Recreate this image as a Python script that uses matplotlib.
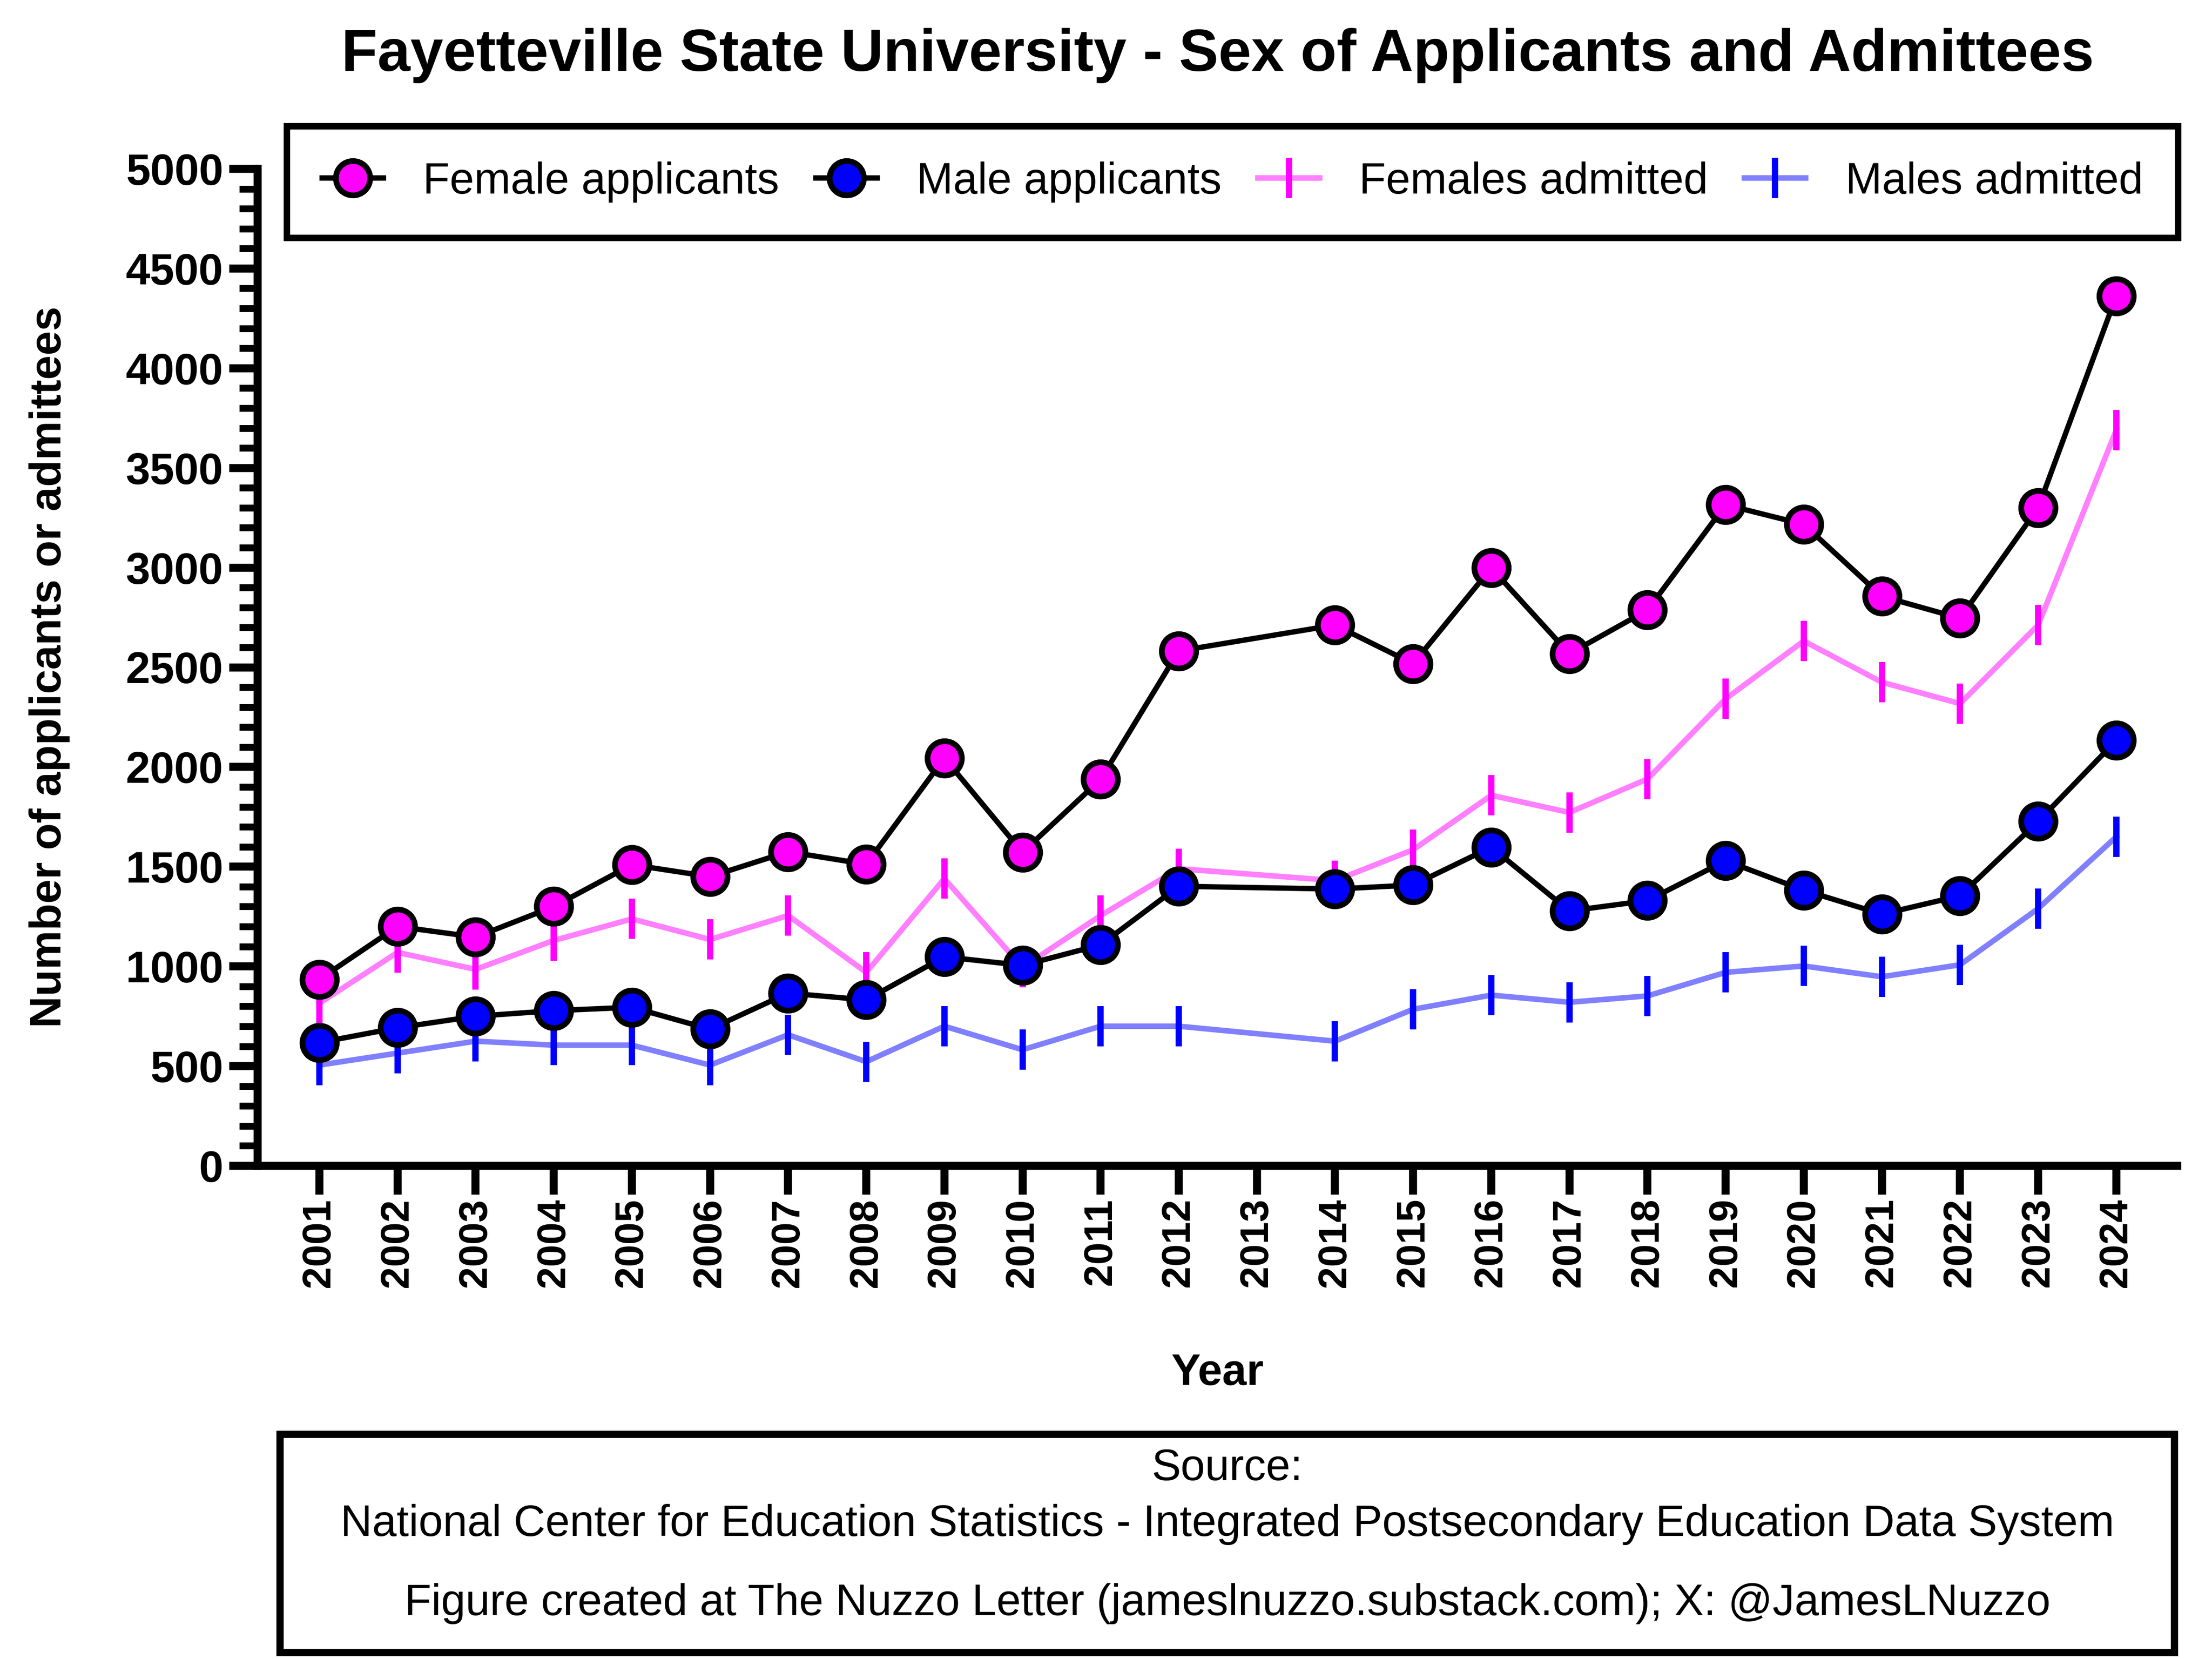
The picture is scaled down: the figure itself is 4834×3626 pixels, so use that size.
import matplotlib
matplotlib.use("Agg")
import matplotlib.pyplot as plt
from matplotlib.lines import Line2D
from matplotlib.patches import Rectangle
from matplotlib.ticker import MultipleLocator

plt.rcParams['font.family'] = ['Liberation Sans', 'DejaVu Sans']

# data (2013 has no values)
years = ['2001', '2002', '2003', '2004', '2005', '2006', '2007', '2008',
         '2009', '2010', '2011', '2012', '2013', '2014', '2015', '2016',
         '2017', '2018', '2019', '2020', '2021', '2022', '2023', '2024']
female_applicants = [935, 1200, 1147, 1300, 1510, 1450, 1575, 1512, 2045, 1572,
                     1938, 2582, None, 2712, 2518, 2998, 2568, 2787, 3315, 3217,
                     2856, 2746, 3300, 4362]
male_applicants = [618, 692, 750, 778, 795, 685, 866, 832, 1048, 1005,
                   1108, 1402, None, 1388, 1408, 1598, 1278, 1330, 1530, 1382,
                   1262, 1354, 1727, 2133]
females_admitted = [815, 1070, 985, 1130, 1238, 1135, 1255, 970, 1440, 995,
                    1255, 1490, None, 1430, 1585, 1858, 1772, 1940, 2342, 2632,
                    2425, 2318, 2712, 3690]
males_admitted = [505, 565, 625, 605, 605, 505, 657, 522, 700, 582,
                  700, 700, None, 625, 785, 856, 820, 852, 970, 1002,
                  948, 1008, 1290, 1650]


def valid(vals):
    xs = [i for i, v in enumerate(vals) if v is not None]
    ys = [v for v in vals if v is not None]
    return xs, ys


W, H = 4834, 3626
fig = plt.figure(figsize=(W / 300, H / 300), dpi=300)
ax = fig.add_axes([563 / W, 1 - 2548 / H, (4758 - 563) / W, (2548 - 369) / H])

# admitted series: pale line, saturated tick markers
adm_kw = dict(marker='|', markersize=21, markeredgewidth=3.3, linewidth=2.9)
# applicant series: black line, filled circles
app_kw = dict(color='black', marker='o', markersize=18, markeredgewidth=3.0,
              markeredgecolor='black', linewidth=2.8)

x, y = valid(females_admitted)
ax.plot(x, y, color='#FF80FF', markeredgecolor='#FF00FF', zorder=2, **adm_kw)
x, y = valid(males_admitted)
ax.plot(x, y, color='#8080FF', markeredgecolor='#0000FF', zorder=2, **adm_kw)
x, y = valid(female_applicants)
ax.plot(x, y, markerfacecolor='#FF00FF', zorder=3, **app_kw)
x, y = valid(male_applicants)
ax.plot(x, y, markerfacecolor='#0000FF', zorder=3, **app_kw)

ax.set_xlim(-0.79, len(years) - 1 + 0.78)
ax.set_ylim(0, 5000)
ax.set_xticks(range(len(years)))
ax.set_xticklabels(years, rotation=90, fontsize=21, fontweight='bold')
ax.yaxis.set_major_locator(MultipleLocator(500))
ax.yaxis.set_minor_locator(MultipleLocator(100))
for lab in ax.get_yticklabels():
    lab.set_fontsize(23)
    lab.set_fontweight('bold')

for side in ['top', 'right']:
    ax.spines[side].set_visible(False)
for side in ['left', 'bottom']:
    ax.spines[side].set_linewidth(4.2)
    ax.spines[side].set_capstyle('projecting')
ax.tick_params(axis='x', which='major', length=15, width=4.2, pad=2)
ax.tick_params(axis='y', which='major', length=15, width=4.2, pad=3)
ax.tick_params(axis='y', which='minor', length=9.5, width=3.6)

# legend above the plot area
handles = [
    Line2D([], [], markerfacecolor='#FF00FF', **app_kw),
    Line2D([], [], markerfacecolor='#0000FF', **app_kw),
    Line2D([], [], color='#FF80FF', markeredgecolor='#FF00FF', **adm_kw),
    Line2D([], [], color='#8080FF', markeredgecolor='#0000FF', **adm_kw),
]
labels = ['Female applicants', 'Male applicants', 'Females admitted', 'Males admitted']
leg = ax.legend(handles, labels, loc='center', ncol=4, mode='expand',
                bbox_to_anchor=(627 / W, 1 - 528 / H, (4760 - 627) / W, 260 / H),
                bbox_transform=fig.transFigure, fontsize=23, frameon=True,
                fancybox=False, framealpha=1, edgecolor='black', borderpad=0.8,
                handlelength=1.4, handletextpad=0.9, columnspacing=1.0,
                borderaxespad=0)
leg.get_frame().set_linewidth(3.4)

fig.text((563 + 4758) / 2 / W, 1 - 122 / H,
         'Fayetteville State University - Sex of Applicants and Admittees',
         ha='center', va='center', fontsize=31, fontweight='bold')
fig.text(108 / W, 1 - 1458 / H, 'Number of applicants or admittees',
         rotation=90, ha='center', va='center', fontsize=23, fontweight='bold')
fig.text(2661 / W, 1 - 3002 / H, 'Year', ha='center', va='center',
         fontsize=23, fontweight='bold')

# source box
fig.patches.append(Rectangle((612 / W, 1 - 3612 / H), (4752 - 612) / W, (3612 - 3135) / H,
                             transform=fig.transFigure, fill=False,
                             edgecolor='black', linewidth=3.8))
cx = (612 + 4752) / 2 / W
fig.text(cx, 1 - 3210 / H, 'Source:', ha='center', va='center', fontsize=23)
fig.text(cx, 1 - 3332 / H,
         'National Center for Education Statistics - Integrated Postsecondary Education Data System',
         ha='center', va='center', fontsize=23)
fig.text(cx, 1 - 3505 / H,
         'Figure created at The Nuzzo Letter (jameslnuzzo.substack.com); X: @JamesLNuzzo',
         ha='center', va='center', fontsize=23)

fig.savefig('out.png', dpi=300, facecolor='white')
